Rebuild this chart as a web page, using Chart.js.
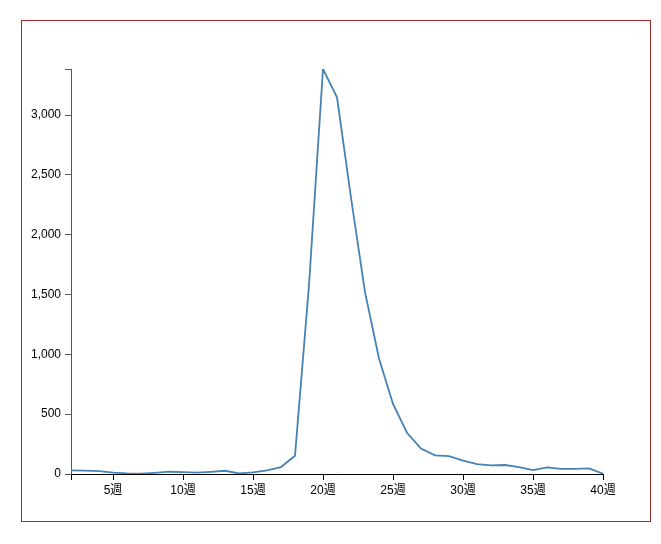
<!DOCTYPE html>
<html>
<head>
<meta charset="utf-8">
<script src="https://cdn.jsdelivr.net/npm/chart.js@4"></script>
<style>
  body{margin:0;background:#fff;}
  #wrap{position:relative;width:661px;height:544px;}
  #frame{position:absolute;left:21px;top:20px;width:628px;height:500px;border:1px solid #a52a2a;pointer-events:none;}
  canvas{position:absolute;left:0;top:0;}
</style>
</head>
<body>
<div id="wrap">
  <canvas id="chart" width="661" height="544"></canvas>
  <div id="frame"></div>
</div>
<script>
// weeks 2..40
const weeks = [2,3,4,5,6,7,8,9,10,11,12,13,14,15,16,17,18,19,20,21,22,23,24,25,26,27,28,29,30,31,32,33,34,35,36,37,38,39,40];
const counts = [30,29,24,12,6,3,10,19,16,11,18,27,5,14,30,58,153,1580,3385,3148,2310,1520,965,585,345,212,156,150,111,83,72,75,58,33,56,42,42,47,3];
const xTicks = [5,10,15,20,25,30,35,40];
const yTicks = [0,500,1000,1500,2000,2500,3000];

const xMin = weeks[0], xMax = weeks[weeks.length-1];
const yMax = Math.max(...counts);
const font = {family:"Arial, 'Liberation Sans', 'Noto Sans CJK JP', sans-serif", size:12};

new Chart(document.getElementById('chart').getContext('2d'),{
  type:'line',
  data:{datasets:[{
    data:weeks.map((w,i)=>({x:w,y:counts[i]})),
    borderColor:'#4682b4',borderWidth:1.8,pointRadius:0,tension:0,fill:false
  }]},
  options:{
    responsive:false,animation:false,
    layout:{padding:{top:69,right:58,left:0,bottom:0}},
    plugins:{legend:{display:false},tooltip:{enabled:false}},
    scales:{
      x:{
        type:'linear',min:xMin,max:xMax,
        afterBuildTicks:s=>{s.ticks=[xMin,...xTicks].map(v=>({value:v}));},
        afterFit:s=>{s.height=70;},
        ticks:{autoSkip:false,maxRotation:0,padding:3,color:'#000',font,
          callback:v=>xTicks.includes(v)?v+'週':''},
        grid:{drawOnChartArea:false,drawTicks:true,tickLength:6,color:'#000'},
        border:{display:true,color:'#000',width:1}
      },
      y:{
        type:'linear',min:0,max:yMax,
        afterBuildTicks:s=>{s.ticks=[...yTicks,yMax].map(v=>({value:v}));},
        afterFit:s=>{s.width=71;},
        ticks:{autoSkip:false,padding:4,color:'#000',font,
          callback:v=>yTicks.includes(v)?v.toLocaleString('en-US'):''},
        grid:{drawOnChartArea:false,drawTicks:true,tickLength:6,color:'#555'},
        border:{display:true,color:'#555',width:1}
      }
    }
  }
});
</script>
</body>
</html>
